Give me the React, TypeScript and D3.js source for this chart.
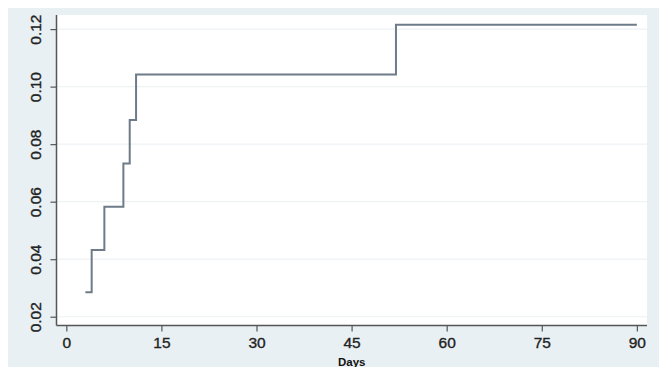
import { useEffect, useRef } from 'react';
import * as d3 from 'd3';

const days = [3, 4, 6, 9, 10, 11, 52, 90];
const risk = [0.0285, 0.0432, 0.0582, 0.0733, 0.0884, 0.1042, 0.1215, 0.1215];
const xTicks = [0, 15, 30, 45, 60, 75, 90];
const yTicks = [0.02, 0.04, 0.06, 0.08, 0.1, 0.12];

export default function App() {
  const svgRef = useRef<SVGSVGElement>(null);

  useEffect(() => {
    if (!svgRef.current) return;
    const svg = d3.select(svgRef.current);
    svg.selectAll('*').remove();

    const width = 659;
    const height = 367;
    const left = 56.5;
    const right = 647;
    const top = 15;
    const bottom = 325.5;

    svg.attr('width', width).attr('height', height);

    svg.append('rect').attr('width', width).attr('height', height).attr('fill', '#ffffff');
    // outer panel
    svg.append('rect').attr('x', 8).attr('y', 8).attr('width', width - 8).attr('height', height - 8).attr('fill', '#e8f0f3');
    // plot region
    svg.append('rect').attr('x', left).attr('y', top).attr('width', right - left).attr('height', bottom - top).attr('fill', '#ffffff');

    const x = d3.scaleLinear().domain([-1.55, 91.6]).range([left, right]);
    const y = d3.scaleLinear().domain([0.01695, 0.1249]).range([bottom, top]);

    // gridlines
    svg.append('g')
      .selectAll('line')
      .data(yTicks)
      .join('line')
      .attr('x1', left)
      .attr('x2', right)
      .attr('y1', (d) => y(d))
      .attr('y2', (d) => y(d))
      .attr('stroke', '#edf2f4')
      .attr('stroke-width', 1.2);

    // step line
    const line = d3.line<number>()
      .x((_, i) => x(days[i]))
      .y((d) => y(d))
      .curve(d3.curveStepAfter);

    svg.append('path')
      .datum(risk)
      .attr('d', line)
      .attr('fill', 'none')
      .attr('stroke', '#6e7b88')
      .attr('stroke-width', 2);

    const font = 'Liberation Sans, Arial, sans-serif';

    // y axis
    const yAxis = svg.append('g')
      .attr('transform', `translate(${left},0)`)
      .call(d3.axisLeft(y).tickValues(yTicks).tickSize(6).tickFormat(d3.format('.2f')));
    yAxis.select('.domain').attr('stroke', '#555').attr('stroke-width', 1.5).attr('d', `M0,${top}V${bottom}`);
    yAxis.selectAll('.tick line').attr('stroke', '#555').attr('stroke-width', 1.2);
    yAxis.selectAll('.tick text')
      .attr('font-family', font)
      .attr('font-size', 15.5)
      .attr('fill', '#222')
      .attr('stroke', '#222')
      .attr('stroke-width', 0.35)
      .attr('x', null)
      .attr('dy', null)
      .attr('text-anchor', 'middle')
      .attr('transform', 'translate(-15,0) rotate(-90)')
      .attr('dy', '0.35em')
      .attr('transform', 'translate(-20.5,0) rotate(-90)');

    // x axis
    const xAxis = svg.append('g')
      .attr('transform', `translate(0,${bottom})`)
      .call(d3.axisBottom(x).tickValues(xTicks).tickSize(6).tickFormat(d3.format('d')));
    xAxis.select('.domain').attr('stroke', '#555').attr('stroke-width', 1.5).attr('d', `M${left},0H${right}`);
    xAxis.selectAll('.tick line').attr('stroke', '#555').attr('stroke-width', 1.2);
    xAxis.selectAll('.tick text')
      .attr('font-family', font)
      .attr('font-size', 15.5)
      .attr('fill', '#222')
      .attr('stroke', '#222')
      .attr('stroke-width', 0.35)
      .attr('y', 11)
      .attr('dy', '0.71em');

    svg.append('text')
      .attr('x', (left + right) / 2)
      .attr('y', 366)
      .attr('text-anchor', 'middle')
      .attr('font-family', font)
      .attr('font-size', 11.5)
      .attr('font-weight', 'bold')
      .attr('fill', '#111')
      .text('Days');
  }, []);

  return (
    <div style={{ position: 'absolute', left: 0, top: 0 }}>
      <svg ref={svgRef} style={{ display: 'block' }} />
    </div>
  );
}
